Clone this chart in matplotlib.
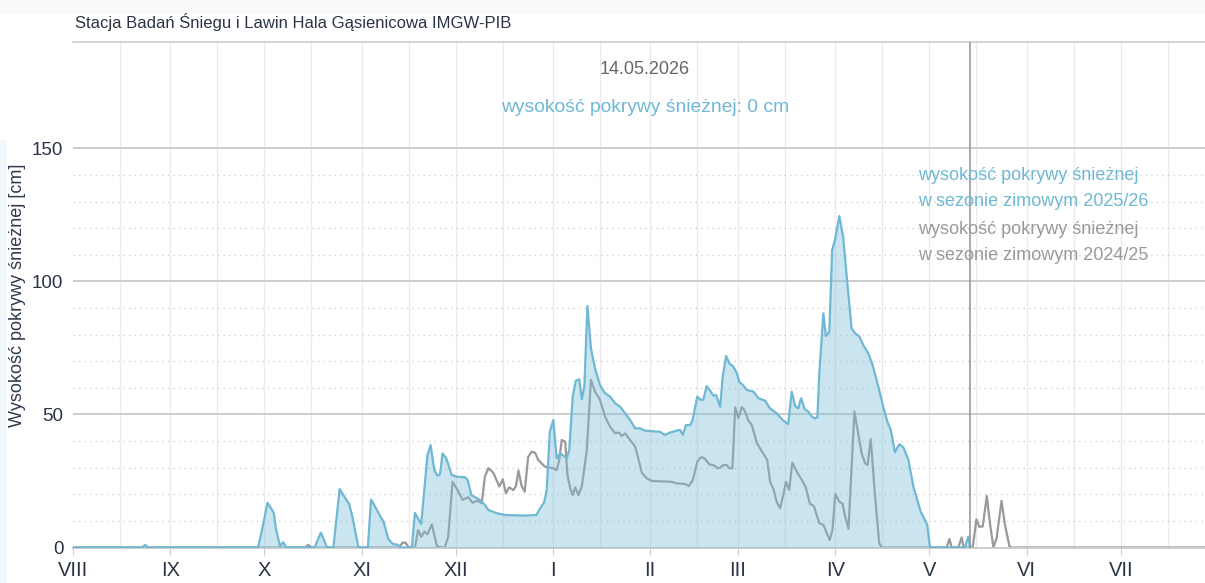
import numpy as np
import pandas as pd
import matplotlib
matplotlib.use("Agg")
import matplotlib.pyplot as plt
from matplotlib.patches import Rectangle

plt.rcParams['font.family'] = ['Liberation Sans', 'DejaVu Sans']

# ---- data (day offset from start of season, 1 Aug) ----
season_start = pd.Timestamp("2025-08-01")
current_date = pd.Timestamp("2026-05-14")
current_value = 0

days_2526 = [0, 22, 23, 24, 59, 60.5, 62, 63, 64, 64.7, 66, 67, 68, 77, 79, 81, 83, 85, 86.7, 88, 89, 91,
             94, 95, 96, 98, 99, 100.5, 102, 103.6, 104.5, 108, 109, 111, 113, 114, 115.2, 116.2, 117,
             117.8, 119, 120.7, 122.3, 125, 125.8, 127, 129.7, 131.3, 132.4, 135, 138, 143.5, 147.7,
             148.9, 150.2, 151, 152, 153.1, 154.2, 155.3, 157.4, 158.2, 159.3, 160.3, 161.4, 162.2, 163,
             164, 165.1, 166.4, 168, 169.6, 171.2, 172.8, 174.4, 176, 177.6, 179.2, 180.7, 182.3, 187.1,
             188.7, 190.3, 192.4, 193.5, 194.4, 195.4, 196.7, 197.5, 199, 200.1, 200.9, 202, 203.3,
             204.1, 205, 206.3, 207.1, 208.2, 209.2, 210.5, 211.6, 212.4, 213.5, 214.8, 216.9, 218.5,
             220.6, 222.2, 224.3, 226.4, 228, 229.1, 230.2, 231.2, 232.1, 233.3, 234.4, 235.5, 236.5,
             237.3, 237.9, 239.2, 240, 241.1, 242, 242.9, 244.3, 245.5, 246.6, 248.2, 249.3, 250.7,
             251.9, 253.5, 254.9, 256.7, 258.3, 259.6, 260.7, 262, 263.4, 264.7, 266.3, 267.9, 269,
             270.2, 271.6, 272.3, 273.2, 284.3, 285.4, 286]
snow_2526 = [0, 0, 1, 0, 0, 8, 16.8, 15, 13, 7, 0.5, 2, 0, 0, 5.6, 0, 0, 22, 18.7, 16.4, 12, 0,
             0, 18, 16, 11.6, 9.7, 3.2, 1.3, 1, 0, 0, 13, 8.8, 34.8, 38.5, 29, 27, 27.5,
             35.4, 33.5, 27.3, 26.6, 26.4, 25.4, 19.7, 17.9, 16, 14.1, 12.9, 12.2, 12, 12.2,
             14.7, 17, 21.6, 43.5, 47.9, 33.5, 35.4, 33.5, 36.7, 56.7, 62.7, 63.2, 55.7, 60.5,
             90.8, 74.9, 67.4, 61, 58, 56.7, 54.2, 52.9, 50.5, 47.9, 44.8, 44.8, 43.9, 43.5,
             42.3, 43.2, 43.9, 44.2, 42.3, 46, 46, 47.9, 56.7, 55.5, 55.5, 60.7, 58.6,
             57.1, 57.3, 52.9, 64.2, 72, 69.2, 68, 65.5, 62.3, 61.1, 59.2, 58.6, 56.1,
             55.2, 52.3, 50.5, 47.7, 46.4, 58.6, 53.2, 52.3, 56.1, 51.9, 51.1, 49.2, 48.5,
             48.9, 65.5, 88, 79.5, 81.1, 111.8, 115.6, 124.6, 116.8, 102.4, 82.4, 80.5, 79.3,
             76.1, 73, 68.6, 60.5, 52.9, 47.3, 44.2, 35.8, 38.8, 37.7, 32.9, 22.9, 18.5,
             13.5, 10.3, 8.5, 0, 0, 4.1, 0]

days_2425 = [0, 74, 75, 76, 104, 105, 106, 107, 109, 110, 111, 112, 113, 114.4, 116, 117.5, 118.5, 119.6,
             121, 122.3, 124.2, 126, 127.4, 128.9, 130.3, 131.3, 132.4, 134, 135.9, 137, 138, 139,
             140.4, 141.2, 142, 143, 144, 145.1, 146.2, 147.3, 148.3, 150.4, 153, 154.2, 155, 155.8,
             156.9, 157.6, 158.5, 159.3, 160.1, 161.1, 162.2, 163.8, 165.1, 166.4, 168, 169.6, 171.2,
             172.8, 174.1, 174.9, 176, 177.6, 179.2, 180.2, 181.3, 182.9, 184.5, 190.8, 192.4, 195.1,
             196.3, 197.6, 199, 200.3, 201.5, 202.8, 204.4, 205.5, 206.3, 207.3, 208.4, 209.2, 210.2,
             211.1, 212.1, 213.2, 214, 215.3, 216.4, 218, 219, 220.3, 221.3, 222.2, 223.3, 224.3,
             225.4, 226.4, 227.3, 228.3, 229.3, 230.7, 232.3, 233.5, 234.9, 236.2, 237.9, 239.2,
             241.2, 242.1, 243, 244.3, 245.3, 246.1, 247.2, 249.1, 250.4, 251.4, 252.5, 253.3, 254.3,
             255.6, 257, 257.8, 278.5, 279.4, 280.1, 282.2, 283.3, 283.9, 286.8, 288, 288.9, 290,
             291.3, 292.3, 293.4, 294.4, 296, 297, 298.5, 299.2, 365]
snow_2425 = [0, 0, 1, 0, 0, 1.8, 1.8, 0, 0, 6.6, 4, 6, 5, 8.7, 0.5, 0, 0, 4,
             24.7, 22.2, 17.9, 18.9, 16.8, 17.6, 16.6, 26.6, 29.8, 28.1, 22.9, 25.6, 20.4, 22.6,
             21.6, 23.1, 28.9, 23.1, 21, 34.1, 36, 35.6, 32.9, 30.4, 29.8, 29.1, 32.9, 40.4,
             39.8, 27.3, 22.2, 19.7, 22.6, 19.7, 22.9, 36.7, 63, 58.6, 55.5, 49.2, 45.4,
             42.9, 43.2, 41.9, 42.9, 40.4, 37.9, 33.5, 28.1, 26, 25, 24.7, 24.1, 23.9,
             23.1, 25.4, 32.3, 34, 33.3, 31.3, 30.8, 29.8, 30, 31, 31, 29.8, 29.8,
             52.7, 48.6, 52.7, 51.7, 47.7, 46, 39.2, 37.3, 34.8, 32.9, 24.7, 21.9, 17.2,
             14.7, 19.7, 24.7, 21.6, 31.9, 28.5, 25.4, 22.9, 16.5, 15.5, 9.1, 8.5,
             2.8, 6.6, 20.1, 17.2, 16.5, 11.8, 7, 51.1, 42.3, 35.4, 31.6, 31, 40.7,
             20.4, 1.6, 0, 0, 3.2, 0, 0, 3.8, 0, 0, 10.6, 7.8, 7.9,
             19.4, 9.1, 0, 3.4, 17.5, 9.1, 0.5, 0, 0]

month_labels = ["VIII", "IX", "X", "XI", "XII", "I", "II", "III", "IV", "V", "VI", "VII"]
y_ticks = [0, 50, 100, 150]

# ---- figure ----
W, H = 1205, 583
fig = plt.figure(figsize=(W / 100, H / 100), dpi=100)
fig.patch.set_facecolor("white")

def fx(px):
    return px / W

def fy(py):
    return 1 - py / H

# decorative top band and left edge
fig.patches.append(Rectangle((0, fy(14)), 1, 14 / H, transform=fig.transFigure,
                             facecolor="#f8f9fa", edgecolor="none", zorder=0))
fig.patches.append(Rectangle((0, 0), fx(7), fy(140), transform=fig.transFigure,
                             facecolor="#f0f8fc", edgecolor="none", zorder=0))

ax_left, ax_right, ax_top, ax_bottom = 73, 1205, 42, 547.5
ax = fig.add_axes([fx(ax_left), fy(ax_bottom), fx(ax_right - ax_left), (ax_bottom - ax_top) / H])

px_per_day = 3.137
x_max = (ax_right - ax_left) / px_per_day
ax.set_xlim(0, x_max)
ax.set_ylim(0, 190)

# month tick positions
months = pd.date_range(season_start, periods=12, freq="MS")
month_pos = [(m - season_start).days for m in months]
mid_pos = [(m + pd.Timedelta(days=15) - season_start).days for m in months]

for p in month_pos[1:] + mid_pos:
    ax.axvline(p, color="#ebebeb", lw=1.0, zorder=0)
for v in range(10, 150, 10):
    if v % 50:
        ax.axhline(v, color="#d2d2d2", lw=1.0, ls=(0, (1, 3)), zorder=0)
for v in [50, 100, 150]:
    ax.axhline(v, color="#cccccc", lw=1.4, zorder=0)

for s in ["left", "right"]:
    ax.spines[s].set_visible(False)
ax.spines["top"].set_color("#cccccc")
ax.spines["top"].set_linewidth(1.2)
ax.spines["bottom"].set_color("#cccccc")
ax.spines["bottom"].set_linewidth(1.4)

ax.set_xticks(month_pos)
ax.set_xticklabels(month_labels)
ax.tick_params(axis="x", length=5, color="#cccccc", labelsize=14.5, labelcolor="#2b3445", pad=5)
ax.set_yticks(y_ticks)
ax.set_yticklabels([str(t) for t in y_ticks])
ax.tick_params(axis="y", length=0, labelsize=13.5, labelcolor="#2b3445", pad=7)

fig.text(fx(18), fy(295), "Wysokość pokrywy śnieżnej [cm]", fontsize=13, color="#2f3a4d",
         rotation=90, ha="center", va="center")

blue = "#6fb8d4"
grey = "#999999"

ax.plot(days_2425, snow_2425, color=grey, lw=1.6, zorder=2, solid_joinstyle="round")
ax.fill_between(days_2526, snow_2526, 0, color="#7cc0da", alpha=0.4, lw=0, zorder=3)
ax.plot(days_2526, snow_2526, color=blue, lw=1.6, zorder=4, solid_joinstyle="round")

cur_x = (current_date - season_start).days
ax.axvline(cur_x, color="#8a93a3", lw=1.1, zorder=5)

# texts
fig.text(fx(75), fy(22), "Stacja Badań Śniegu i Lawin Hala Gąsienicowa IMGW-PIB",
         fontsize=12, color="#2b3445", ha="left", va="center")
fig.text(fx(645), fy(69), current_date.strftime("%d.%m.%Y"), fontsize=13,
         color="#666666", ha="center", va="center")
fig.text(fx(645), fy(107), f"wysokość pokrywy śnieżnej: {current_value} cm", fontsize=13.9,
         color=blue, ha="center", va="center")

legend_lines = [("wysokość pokrywy śnieżnej", blue, 176),
                ("w sezonie zimowym 2025/26", blue, 201),
                ("wysokość pokrywy śnieżnej", grey, 229),
                ("w sezonie zimowym 2024/25", grey, 256)]
for txt, col, py in legend_lines:
    fig.text(fx(918), fy(py), txt, fontsize=13, color=col, ha="left", va="center")

fig.savefig("out.png", dpi=100)
